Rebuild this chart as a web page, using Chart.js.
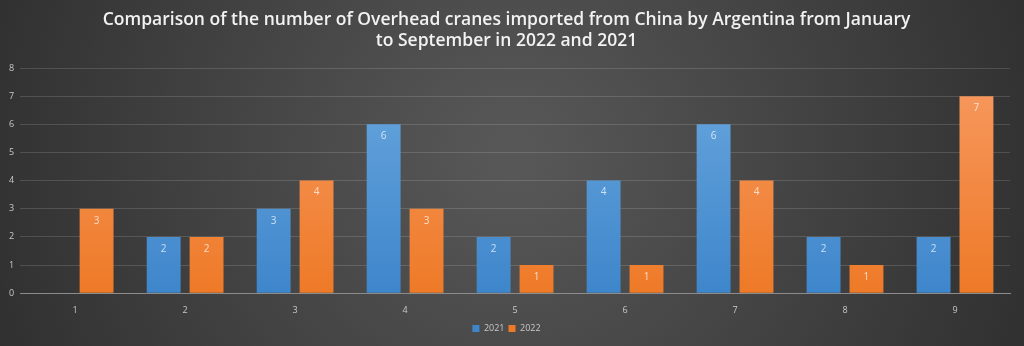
<!DOCTYPE html>
<html>
<head>
<meta charset="utf-8">
<script src="https://cdn.jsdelivr.net/npm/chart.js@4/dist/chart.umd.min.js"></script>
<style>
  html, body { margin: 0; padding: 0; background: #3a3a3a; }
  #wrap { width: 1024px; height: 346px; position: relative; }
</style>
</head>
<body>
<div id="wrap"><canvas id="c" width="1024" height="346"></canvas></div>
<script>
const months = ['1', '2', '3', '4', '5', '6', '7', '8', '9'];
const imports2021 = [0, 2, 3, 6, 2, 4, 6, 2, 2];
const imports2022 = [3, 2, 4, 3, 1, 1, 4, 1, 7];
const yTicks = [0, 1, 2, 3, 4, 5, 6, 7, 8];
const titleLines = [
  'Comparison of the number of Overhead cranes imported from China by Argentina from January',
  'to September in 2022 and 2021'
];

// dark radial backdrop, lighter toward the middle
const backdrop = {
  id: 'backdrop',
  beforeDraw(chart) {
    const { ctx, width, height } = chart;
    ctx.save();
    const g = ctx.createRadialGradient(width * 0.5, height * 0.45, 20, width * 0.5, height * 0.45, width * 0.6);
    g.addColorStop(0, '#575757');
    g.addColorStop(1, '#2b2b2b');
    ctx.fillStyle = g;
    ctx.fillRect(0, 0, width, height);
    ctx.restore();
  }
};

// value labels printed just inside the top of each bar
const valueLabels = {
  id: 'valueLabels',
  afterDatasetsDraw(chart) {
    const { ctx } = chart;
    ctx.save();
    ctx.font = '10px "Open Sans", sans-serif';
    ctx.textAlign = 'center';
    ctx.textBaseline = 'middle';
    ctx.fillStyle = 'rgba(255,255,255,0.72)';
    chart.data.datasets.forEach((ds, i) => {
      chart.getDatasetMeta(i).data.forEach((bar, j) => {
        const v = ds.data[j];
        if (!v) return;
        ctx.fillText(String(v), bar.x, bar.y + 12);
      });
    });
    ctx.restore();
  }
};

function barGradient(top, bottom) {
  return (context) => {
    const area = context.chart.chartArea;
    if (!area) return bottom;
    const g = context.chart.ctx.createLinearGradient(0, area.top, 0, area.bottom);
    g.addColorStop(0, top);
    g.addColorStop(1, bottom);
    return g;
  };
}

new Chart(document.getElementById('c'), {
  type: 'bar',
  data: {
    labels: months,
    datasets: [
      {
        label: '2021',
        data: imports2021,
        backgroundColor: barGradient('#6aa7de', '#3e86cb'),
        borderWidth: 0
      },
      {
        label: '2022',
        data: imports2022,
        backgroundColor: barGradient('#f79a62', '#ee7a27'),
        borderWidth: 0
      }
    ]
  },
  plugins: [backdrop, valueLabels],
  options: {
    responsive: false,
    animation: false,
    devicePixelRatio: 1,
    layout: { padding: { left: 3, right: 14, top: 0, bottom: 3 } },
    datasets: {
      bar: { categoryPercentage: 0.78, barPercentage: 0.79 }
    },
    plugins: {
      title: {
        display: true,
        text: titleLines,
        color: '#f2f2f2',
        font: { family: '"Open Sans", sans-serif', size: 17.5, weight: '600' },
        lineHeight: 1.3,
        padding: { top: 10, bottom: 16 }
      },
      legend: {
        position: 'bottom',
        labels: {
          color: '#c8c8c8',
          font: { family: '"Open Sans", sans-serif', size: 9 },
          boxWidth: 7,
          boxHeight: 7,
          padding: 4
        }
      },
      tooltip: { enabled: false }
    },
    scales: {
      x: {
        grid: { display: false },
        border: { color: '#8c8c8c', width: 1 },
        ticks: { color: '#c8c8c8', font: { family: '"Open Sans", sans-serif', size: 9 }, padding: 4 }
      },
      y: {
        min: 0,
        max: 8,
        afterBuildTicks(axis) { axis.ticks = yTicks.map(v => ({ value: v })); },
        grid: { color: 'rgba(255,255,255,0.14)', drawTicks: false },
        border: { display: false },
        ticks: { color: '#c8c8c8', font: { family: '"Open Sans", sans-serif', size: 9 }, padding: 6 }
      }
    }
  }
});
</script>
</body>
</html>
